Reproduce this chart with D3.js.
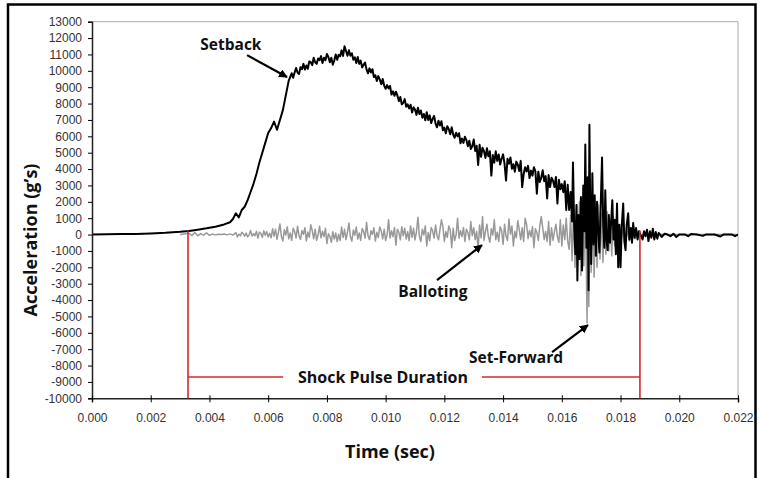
<!DOCTYPE html>
<html>
<head>
<meta charset="utf-8">
<script src="https://cdn.jsdelivr.net/npm/d3@7"></script>
<style>
  body { margin: 0; background: #fff; }
  svg { display: block; }
  .axis text { font-family: "Liberation Sans", Arial, sans-serif; font-size: 12px; fill: #333; }
  .lbl { font-family: "Open Sans", sans-serif; font-weight: 700; fill: #111; }
</style>
</head>
<body>
<script>
// tick labels
const timeTicks = [0, 0.002, 0.004, 0.006, 0.008, 0.010, 0.012, 0.014, 0.016, 0.018, 0.020, 0.022];
const accelTicks = [-10000, -9000, -8000, -7000, -6000, -5000, -4000, -3000, -2000, -1000, 0,
  1000, 2000, 3000, 4000, 5000, 6000, 7000, 8000, 9000, 10000, 11000, 12000, 13000];

// setback record, [time (s), acceleration (g)]
const setback = [
  [0.0000, 10], [0.0005, 20], [0.0010, 30], [0.0015, 40], [0.0020, 70], [0.0025, 110],
  [0.0030, 170], [0.0033, 220], [0.0036, 300], [0.0039, 380], [0.0042, 480], [0.0045, 620],
  [0.0047, 750], [0.0048, 950], [0.0049, 1300], [0.0050, 1050], [0.0051, 1500], [0.0052, 1700],
  [0.0053, 2100], [0.0054, 2600], [0.0055, 3100], [0.0056, 3700], [0.0057, 4400], [0.0058, 5000],
  [0.0059, 5600], [0.0060, 6200], [0.0061, 6500], [0.0062, 6900], [0.0063, 6400], [0.0064, 7000],
  [0.0065, 7600], [0.0066, 8500], [0.0067, 9400],
  [0.00680, 9850], [0.00685, 9575], [0.00690, 9900], [0.00695, 10175], [0.00700, 9900], [0.00705, 9800],
  [0.00710, 10225], [0.00715, 10100], [0.00720, 10425], [0.00725, 10075], [0.00730, 10325], [0.00735, 10125],
  [0.00740, 10575], [0.00745, 10525], [0.00750, 10350], [0.00755, 10800], [0.00760, 10525], [0.00765, 10425],
  [0.00770, 10750], [0.00775, 10650], [0.00780, 10900], [0.00785, 10475], [0.00790, 10800], [0.00795, 10650],
  [0.00800, 11025], [0.00805, 10850], [0.00810, 10525], [0.00815, 10800], [0.00820, 10375], [0.00825, 10625],
  [0.00830, 11000], [0.00835, 10675], [0.00840, 10975], [0.00845, 10890], [0.00850, 11250], [0.00855, 10910],
  [0.00860, 11500], [0.00865, 11210], [0.00870, 10925], [0.00875, 11260], [0.00880, 10925], [0.00885, 11075],
  [0.00890, 10675], [0.00895, 10825], [0.00900, 10475], [0.00905, 10850], [0.00910, 10425], [0.00915, 10625],
  [0.00920, 10200], [0.00925, 10375], [0.00930, 10500], [0.00935, 10075], [0.00940, 9850], [0.00945, 10150],
  [0.00950, 9900], [0.00955, 10100], [0.00960, 9625], [0.00965, 9725], [0.00970, 9375], [0.00975, 9675],
  [0.00980, 9475], [0.00985, 9175], [0.00990, 9500], [0.00995, 9100], [0.01000, 8900], [0.01005, 9125],
  [0.01010, 8925], [0.01015, 9075], [0.01020, 8550], [0.01025, 8750], [0.01030, 8475], [0.01035, 8725],
  [0.01040, 8500], [0.01045, 8150], [0.01050, 8400], [0.01055, 7950], [0.01060, 8050], [0.01065, 8275],
  [0.01070, 7800], [0.01075, 7950], [0.01080, 7700], [0.01085, 7925], [0.01090, 7450], [0.01095, 7775],
  [0.01100, 7630], [0.01105, 7310], [0.01110, 7740], [0.01115, 7360], [0.01120, 7580], [0.01125, 7140],
  [0.01130, 7360], [0.01135, 6980], [0.01140, 7470], [0.01145, 7000], [0.01150, 7280], [0.01155, 6810],
  [0.01160, 7060], [0.01165, 7250], [0.01170, 6780], [0.01175, 6550], [0.01180, 6950], [0.01185, 6665],
  [0.01190, 6920], [0.01195, 6365], [0.01200, 6530], [0.01205, 6180], [0.01210, 6610], [0.01215, 6440],
  [0.01220, 6120], [0.01225, 6550], [0.01230, 6110], [0.01235, 5910], [0.01240, 6220], [0.01245, 5995],
  [0.01250, 6190], [0.01255, 5575], [0.01260, 5860], [0.01265, 5600], [0.01270, 5970], [0.01275, 5770],
  [0.01280, 5390], [0.01285, 5730], [0.01290, 5230], [0.01295, 5390], [0.01300, 5800], [0.01305, 5110],
  [0.01310, 5420], [0.01315, 4250], [0.01320, 5480], [0.01325, 4750], [0.01330, 5300], [0.01335, 5090],
  [0.01340, 4680], [0.01345, 5270], [0.01350, 4780], [0.01355, 5090], [0.01360, 3600], [0.01365, 4855],
  [0.01370, 4390], [0.01375, 5085], [0.01380, 4500], [0.01385, 4890], [0.01390, 4280], [0.01395, 4630],
  [0.01400, 4900], [0.01405, 4315], [0.01410, 3300], [0.01415, 4625], [0.01420, 4320], [0.01425, 4710],
  [0.01430, 4020], [0.01435, 4290], [0.01440, 3840], [0.01445, 4455], [0.01450, 4270], [0.01455, 3885],
  [0.01460, 4500], [0.01465, 2900], [0.01470, 3680], [0.01475, 4110], [0.01480, 3860], [0.01485, 4195],
  [0.01490, 3450], [0.01495, 3905], [0.01500, 3600], [0.01505, 4110], [0.01510, 3860], [0.01515, 2500],
  [0.01520, 3840], [0.01525, 3215], [0.01530, 3470], [0.01535, 3925], [0.01540, 3260], [0.01545, 3570],
  [0.01550, 2200], [0.01555, 3630], [0.01560, 2900], [0.01565, 3475], [0.01570, 3290], [0.01575, 2905],
  [0.01580, 3520], [0.01585, 1900], [0.01590, 3340], [0.01595, 2770], [0.01600, 3080], [0.01605, 2590],
  [0.01610, 3260], [0.01615, 1500], [0.01620, 3040],
  [0.01625, 1500], [0.01630, 2600], [0.01635, 800], [0.01638, 4400], [0.01642, 600], [0.01646, -1200],
  [0.01650, 1800], [0.01653, -2800], [0.01657, 1200], [0.01661, -1500], [0.01665, 2300], [0.01669, -2200],
  [0.01673, 3000], [0.01677, 200], [0.01680, 5500], [0.01684, -800], [0.01688, 3500], [0.01691, -3400],
  [0.01694, 6700], [0.01697, 1000], [0.01700, -1800], [0.01704, 3750], [0.01708, -600], [0.01712, 2400],
  [0.01716, -1300], [0.01720, 2000], [0.01724, 300], [0.01728, -1100], [0.01732, 1500], [0.01737, 4700],
  [0.01741, 500], [0.01745, -800], [0.01748, 2700], [0.01752, -300], [0.01756, -950], [0.01760, 1200],
  [0.01764, -500], [0.01768, 800], [0.01772, 2100], [0.01776, -300], [0.01780, 900], [0.01784, -1200],
  [0.01788, 1900], [0.01792, -2000], [0.01796, 600], [0.01800, -2000], [0.01804, 500], [0.01809, 1900],
  [0.01813, -400], [0.01817, -950], [0.01821, 600], [0.01826, 1300], [0.01830, -300], [0.01835, 400],
  [0.01839, -500], [0.01843, 700], [0.01848, -200], [0.01853, 400], [0.01858, -300], [0.01863, 200],
  [0.01868, 0], [0.01875, -300], [0.0188, 200], [0.01885, -100], [0.0189, 300], [0.01895, -400],
  [0.0190, 200], [0.01905, -200], [0.0191, 350], [0.01915, -300], [0.0192, 150], [0.01925, -250],
  [0.0193, 100], [0.0194, -150], [0.0195, 50], [0.0196, 0], [0.0197, -100], [0.0198, 50],
  [0.0199, -150], [0.0200, 0], [0.0202, 0], [0.0203, -100], [0.0204, 30], [0.0206, 0],
  [0.0208, -80], [0.0209, 0], [0.0212, 0], [0.0214, -120], [0.0215, 0], [0.0218, 0],
  [0.0219, -100], [0.0220, 0]
];

// balloting record, [time (s), acceleration (g)]
const balloting = [
  [0.0030, 0], [0.0033, 80], [0.0034, -60], [0.0035, 120], [0.0036, -80], [0.0037, 60],
  [0.0038, -40], [0.0039, 100], [0.0040, -50], [0.0041, 30], [0.0042, -20], [0.0043, 20],
  [0.0044, 0], [0.0045, 30], [0.0046, -20], [0.0047, 40], [0.0048, -30],
  [0.00490, 120], [0.00495, -150], [0.00500, 30], [0.00505, -80], [0.00510, 140], [0.00515, 60],
  [0.00520, -100], [0.00525, 90], [0.00530, -140], [0.00535, -30], [0.00540, 250], [0.00545, -90],
  [0.00550, 50], [0.00555, -70], [0.00560, 200], [0.00565, -220], [0.00570, 150], [0.00575, 60],
  [0.00580, -170], [0.00585, 230], [0.00590, -40], [0.00595, 180], [0.00600, -150], [0.00605, 80],
  [0.00610, -200], [0.00615, 350], [0.00620, -100], [0.00625, 330], [0.00630, -300], [0.00635, 150],
  [0.00640, 650], [0.00645, -120], [0.00650, -390], [0.00655, 290], [0.00660, -30], [0.00665, 470],
  [0.00670, -260], [0.00675, 100], [0.00680, -350], [0.00685, 380], [0.00690, 200], [0.00695, -210],
  [0.00700, 510], [0.00705, -80], [0.00710, -300], [0.00715, 240], [0.00720, 20], [0.00725, 420],
  [0.00730, -390], [0.00735, 150], [0.00740, -170], [0.00745, 600], [0.00750, 240], [0.00755, -260],
  [0.00760, 330], [0.00765, -350], [0.00770, -30], [0.00775, 510], [0.00780, -210], [0.00785, 200],
  [0.00790, -120], [0.00795, 380], [0.00800, -550], [0.00805, 50], [0.00810, -110], [0.00815, -470],
  [0.00820, 170], [0.00825, -270], [0.00830, 90], [0.00835, -430], [0.00840, 20], [0.00845, -360],
  [0.00850, 460], [0.00855, -180], [0.00860, 320], [0.00865, -310], [0.00870, 140], [0.00875, 700],
  [0.00880, -130], [0.00885, -400], [0.00890, 280], [0.00895, -40], [0.00900, 460], [0.00905, -270],
  [0.00910, 100], [0.00915, -360], [0.00920, 370], [0.00925, 190], [0.00930, -220], [0.00935, 750],
  [0.00940, -90], [0.00945, -310], [0.00950, 230], [0.00955, 10], [0.00960, 410], [0.00965, -400],
  [0.00970, 140], [0.00975, -180], [0.00980, 460], [0.00985, 230], [0.00990, -270], [0.00995, 320],
  [0.01000, -370], [0.01005, -20], [0.01010, 900], [0.01015, -220], [0.01020, 230], [0.01025, -120],
  [0.01030, 430], [0.01035, -650], [0.01040, 330], [0.01045, 130], [0.01050, -320], [0.01055, 480],
  [0.01060, -70], [0.01065, 380], [0.01070, -270], [0.01075, 180], [0.01080, -370], [0.01085, 530],
  [0.01090, -170], [0.01095, 380], [0.01100, -320], [0.01105, 180], [0.01110, 1050], [0.01115, -120],
  [0.01120, -420], [0.01125, 330], [0.01130, -20], [0.01135, 530], [0.01140, -700], [0.01145, 130],
  [0.01150, -370], [0.01155, 430], [0.01160, 230], [0.01165, -220], [0.01170, 580], [0.01175, -70],
  [0.01180, -320], [0.01185, 280], [0.01190, 900], [0.01195, 480], [0.01200, -420], [0.01205, 180],
  [0.01210, -170], [0.01215, 530], [0.01220, 280], [0.01225, -800], [0.01230, 380], [0.01235, -370],
  [0.01240, -20], [0.01245, 1000], [0.01250, -220], [0.01255, 230], [0.01260, -120], [0.01265, 430],
  [0.01270, -420], [0.01275, 330], [0.01280, 130], [0.01285, -320], [0.01290, 800], [0.01295, -70],
  [0.01300, 410], [0.01305, -310], [0.01310, 190], [0.01315, -900], [0.01320, 580], [0.01325, -200],
  [0.01330, 1100], [0.01335, -360], [0.01340, 190], [0.01345, 630], [0.01350, -140], [0.01355, -470],
  [0.01360, 360], [0.01365, -30], [0.01370, 900], [0.01375, -310], [0.01380, 140], [0.01385, -420],
  [0.01390, 470], [0.01395, 250], [0.01400, -600], [0.01405, 630], [0.01410, -90], [0.01415, -360],
  [0.01420, 950], [0.01425, 30], [0.01430, 520], [0.01435, -700], [0.01440, 190], [0.01445, -200],
  [0.01450, 850], [0.01455, 300], [0.01460, -310], [0.01465, 410], [0.01470, -420], [0.01475, 1000],
  [0.01480, 630], [0.01485, -250], [0.01490, 250], [0.01495, -140], [0.01500, 470], [0.01505, -800],
  [0.01510, 360], [0.01515, 140], [0.01520, -360], [0.01525, 520], [0.01530, 1100], [0.01535, 410],
  [0.01540, -310], [0.01545, 190], [0.01550, -420], [0.01555, 800], [0.01560, -650], [0.01565, 410],
  [0.01570, -360], [0.01575, 190], [0.01580, 630], [0.01585, -140], [0.01590, -470], [0.01595, 900],
  [0.01600, -700], [0.01605, 580], [0.01610, -310], [0.01615, 1000], [0.01620, -420],
  [0.01625, -900], [0.01630, 1200], [0.01635, -1600], [0.01640, 1500], [0.01645, -2000], [0.01650, 1800],
  [0.01655, -1400], [0.01660, 2000], [0.01665, -2500], [0.01670, 1700], [0.01675, -1900], [0.01680, 2100],
  [0.01684, -2600], [0.01686, -5400], [0.01688, 1500], [0.01692, -4400], [0.01696, 2200], [0.01700, -2300],
  [0.01705, 1900], [0.01710, -2600], [0.01715, 1600], [0.01720, -2000], [0.01725, 1800], [0.01730, -1500],
  [0.01735, 1300], [0.01740, -1700], [0.01745, 1100], [0.01750, -1200], [0.01755, 1400], [0.01760, -1000],
  [0.01765, 900], [0.01770, -1300], [0.01775, 1000], [0.01780, -700], [0.01785, 800], [0.01790, -900],
  [0.01795, 600], [0.01800, -600], [0.01810, 500], [0.01815, -500], [0.01820, 400], [0.01830, -400],
  [0.01840, 300], [0.01850, -250], [0.01860, 200], [0.01870, -100], [0.0188, 80], [0.0190, -50],
  [0.0192, 40], [0.0195, 0], [0.0220, 0]
];

// shock pulse markers
const pulseStart = 0.00327, pulseEnd = 0.01866, pulseLevel = -8700;
const pulseStartG = 200, pulseEndG = 250;

// callouts: label, text anchor point, arrow tail, arrow head (time, g)
const notes = [
  {text: "Setback", at: [0.00473, 11270], from: [0.00528, 10960], to: [0.00664, 9620]},
  {text: "Balloting", at: [0.01161, -3820], from: [0.01175, -2780], to: [0.01328, -640]},
  {text: "Set-Forward", at: [0.01444, -7850], from: [0.01567, -7180], to: [0.01689, -5530]}
];

const W = 760, H = 478;
const svg = d3.select("body").append("svg").attr("width", W).attr("height", H);

const x = d3.scaleLinear().domain([0, 0.022]).range([92, 738]);
const y = d3.scaleLinear().domain([-10000, 13000]).range([398.3, 21.7]);

// outer frame
svg.append("path")
  .attr("d", `M8,${H + 2}V4.5H755.5V${H + 2}`)
  .attr("fill", "none").attr("stroke", "#000").attr("stroke-width", 2.5);

// plot frame top/right
svg.append("path")
  .attr("d", `M${x(0)},${y(13000)}H${x(0.022)}V${y(-10000)}`)
  .attr("fill", "none").attr("stroke", "#aaa").attr("stroke-width", 1);

svg.append("defs").append("clipPath").attr("id", "plot")
  .append("rect").attr("x", x(0)).attr("y", y(13000))
  .attr("width", x(0.022) - x(0)).attr("height", y(-10000) - y(13000));

const line = d3.line().x(d => x(d[0])).y(d => y(d[1]));
const traces = svg.append("g").attr("clip-path", "url(#plot)");

traces.append("path").datum(balloting)
  .attr("d", line).attr("fill", "none")
  .attr("stroke", "#999").attr("stroke-width", 1.5).attr("stroke-linejoin", "round");

traces.append("path").datum(setback)
  .attr("d", line).attr("fill", "none")
  .attr("stroke", "#000").attr("stroke-width", 2).attr("stroke-linejoin", "round");

// axes
const yAxis = svg.append("g").attr("class", "axis")
  .attr("transform", `translate(${x(0)},0)`)
  .call(d3.axisLeft(y).tickValues(accelTicks).tickFormat(d => String(d)).tickSize(4).tickPadding(6));
yAxis.select(".domain").attr("stroke", "#222").attr("stroke-width", 1.5);

const xAxis = svg.append("g").attr("class", "axis")
  .attr("transform", `translate(0,${y(-10000)})`)
  .call(d3.axisBottom(x).tickValues(timeTicks).tickFormat(d3.format(".3f")).tickSize(4).tickPadding(11));
xAxis.select(".domain").attr("stroke", "#222").attr("stroke-width", 1.5);
xAxis.selectAll(".tick line").attr("y1", -3);

// shock pulse duration marker
const red = "#d42a2a";
const pulse = svg.append("g").attr("stroke", red).attr("stroke-width", 1.6).attr("fill", "none");
pulse.append("line").attr("x1", x(pulseStart)).attr("x2", x(pulseStart))
  .attr("y1", y(pulseStartG)).attr("y2", y(-10000));
pulse.append("line").attr("x1", x(pulseEnd)).attr("x2", x(pulseEnd))
  .attr("y1", y(pulseEndG)).attr("y2", y(-10000));
pulse.append("line").attr("x1", x(pulseStart)).attr("x2", x(0.00651))
  .attr("y1", y(pulseLevel)).attr("y2", y(pulseLevel));
pulse.append("line").attr("x1", x(0.01328)).attr("x2", x(pulseEnd))
  .attr("y1", y(pulseLevel)).attr("y2", y(pulseLevel));

svg.append("text").attr("class", "lbl")
  .attr("x", x(0.00991)).attr("y", y(pulseLevel) + 5.5)
  .attr("text-anchor", "middle").attr("font-size", 16)
  .text("Shock Pulse Duration");

// callouts
svg.append("defs").append("marker")
  .attr("id", "head").attr("viewBox", "0 0 10 10")
  .attr("refX", 9).attr("refY", 5)
  .attr("markerWidth", 4).attr("markerHeight", 4)
  .attr("markerUnits", "strokeWidth")
  .attr("orient", "auto")
  .append("path").attr("d", "M0,0L10,5L0,10z").attr("fill", "#000");

notes.forEach(n => {
  svg.append("line")
    .attr("x1", x(n.from[0])).attr("y1", y(n.from[1]))
    .attr("x2", x(n.to[0])).attr("y2", y(n.to[1]))
    .attr("stroke", "#000").attr("stroke-width", 2.2)
    .attr("marker-end", "url(#head)");
  svg.append("text").attr("class", "lbl")
    .attr("x", x(n.at[0])).attr("y", y(n.at[1]))
    .attr("text-anchor", "middle").attr("font-size", 15.5)
    .text(n.text);
});

// axis titles
svg.append("text").attr("class", "lbl")
  .attr("x", 390).attr("y", 458)
  .attr("text-anchor", "middle").attr("font-size", 18)
  .text("Time (sec)");

svg.append("text").attr("class", "lbl")
  .attr("transform", "translate(37,240) rotate(-90)")
  .attr("text-anchor", "middle").attr("font-size", 18)
  .text("Acceleration (g’s)");
</script>
</body>
</html>
